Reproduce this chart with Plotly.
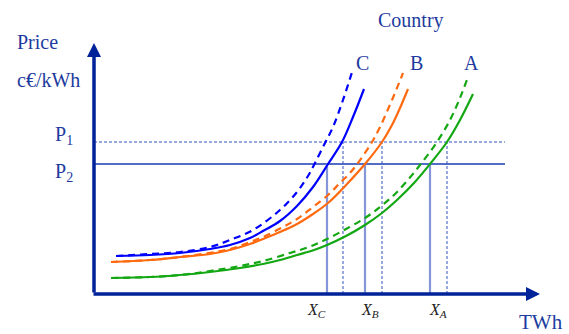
import plotly.graph_objects as go

# supply curves (x: TWh units, y: price units, origin at axes corner)
blue_solid_x = [22, 56, 86, 116, 136, 156, 169, 186, 203, 219, 234, 248, 259, 270]
blue_solid_y = [38, 39, 41, 45, 49, 56, 63, 73, 88, 107, 130, 152, 177, 205]
blue_dash_x = [22, 56, 86, 116, 136, 159, 186, 203, 214, 221, 231, 239, 249, 259]
blue_dash_y = [38, 40, 42, 47, 54, 64, 84, 102, 118, 131, 151, 167, 194, 225]

orange_solid_x = [17, 56, 86, 116, 136, 156, 169, 186, 203, 219, 234, 253, 271, 288, 298, 306, 314]
orange_solid_y = [32, 34, 37, 40, 44, 50, 55, 62, 70, 80, 91, 110, 130, 152, 169, 186, 205]
orange_dash_x = [17, 56, 86, 136, 156, 169, 189, 203, 219, 234, 246, 256, 264, 278, 286, 298, 309]
orange_dash_y = [32, 34, 37, 45, 52, 57, 67, 75, 87, 99, 111, 121, 131, 152, 167, 194, 221]

green_solid_x = [17, 56, 86, 116, 146, 169, 186, 203, 220, 233, 252, 271, 288, 303, 320, 336, 353, 366, 379]
green_solid_y = [16, 17, 19, 22, 26, 30, 34, 39, 44, 49, 58, 69, 81, 94, 111, 130, 152, 174, 200]
green_dash_x = [17, 56, 86, 116, 146, 169, 196, 215, 233, 252, 271, 286, 300, 313, 326, 343, 356, 366, 374]
green_dash_y = [16, 17, 19, 23, 28, 33, 41, 47, 55, 65, 76, 87, 99, 113, 129, 152, 174, 196, 217]

# price levels and equilibrium quantities
p1 = 152
p2 = 130
x_at_p2 = [233, 271, 336]   # X_C, X_B, X_A
x_at_p1 = [249, 288, 353]
x_labels = ["<i>X<sub>C</sub></i>", "<i>X<sub>B</sub></i>", "<i>X<sub>A</sub></i>"]
x_label_pos = [222, 276, 344]

curve_labels = ["C", "B", "A"]
label_x = [268, 322, 377]
label_y = 231

X_MAX = 450   # axis extent (1 unit = 1 px)
Y_MAX = 252
X_TIP = 446   # arrow tips
Y_TIP = 251

navy = "#00239a"
text_col = "#1d3b9e"
blue = "#0000ff"
orange = "#ff6a10"
green = "#13a813"
font = "Liberation Serif"

fig = go.Figure()

# price lines
fig.add_trace(go.Scatter(x=[0, 411], y=[p1, p1], mode="lines",
                         line=dict(color="#3355c0", width=1, dash="3px,2px"), hoverinfo="skip"))
fig.add_trace(go.Scatter(x=[0, 411], y=[p2, p2], mode="lines",
                         line=dict(color="#1a3cb4", width=1.3), hoverinfo="skip"))

# vertical drop lines
for xv in x_at_p2:
    fig.add_trace(go.Scatter(x=[xv, xv], y=[0, p2], mode="lines",
                             line=dict(color="#8496d8", width=2.2), hoverinfo="skip"))
for xv in x_at_p1:
    fig.add_trace(go.Scatter(x=[xv, xv], y=[0, p1], mode="lines",
                             line=dict(color="#3355c0", width=1, dash="3px,2px"), hoverinfo="skip"))

curves = [
    (blue_solid_x, blue_solid_y, blue, "solid"),
    (blue_dash_x, blue_dash_y, blue, "7px,5px"),
    (orange_solid_x, orange_solid_y, orange, "solid"),
    (orange_dash_x, orange_dash_y, orange, "7px,5px"),
    (green_solid_x, green_solid_y, green, "solid"),
    (green_dash_x, green_dash_y, green, "7px,5px"),
]
for cx, cy, col, dash in curves:
    fig.add_trace(go.Scatter(x=cx, y=cy, mode="lines", line_shape="spline",
                             line=dict(color=col, width=2.2, dash=dash), hoverinfo="skip"))

# axes with arrows
ann = [
    dict(x=0, y=Y_TIP, ax=0, ay=0, xref="x", yref="y", axref="x", ayref="y",
         showarrow=True, arrowhead=2, arrowsize=0.8, arrowwidth=3.5, arrowcolor=navy, text=""),
    dict(x=X_TIP, y=0, ax=-2, ay=0, xref="x", yref="y", axref="x", ayref="y",
         showarrow=True, arrowhead=2, arrowsize=0.8, arrowwidth=3.5, arrowcolor=navy, text=""),
]


def txt(t, x, y, size=20, color=text_col, xanchor="center"):
    # positions given in the same units as the data, placed via paper coords so they show outside the axes
    return dict(x=x / X_MAX, y=y / Y_MAX, xref="paper", yref="paper", text=t, showarrow=False,
                xanchor=xanchor, yanchor="middle", font=dict(family=font, size=size, color=color))


ann += [
    txt("Price", -79, 252, xanchor="left"),
    txt("c€/kWh", -79, 214, xanchor="left"),
    txt("Country", 317, 274),
    txt("TWh", 447, -28, size=21),
    txt("P<sub>1</sub>", -41, 159, xanchor="left"),
    txt("P<sub>2</sub>", -41, 121, xanchor="left"),
]
for t, x in zip(curve_labels, label_x):
    ann.append(txt(t, x, label_y))
for t, x in zip(x_labels, x_label_pos):
    ann.append(txt(t, x, -16, size=16, color="#222222"))

fig.update_layout(
    width=569, height=334,
    margin=dict(l=94, r=25, t=42, b=40),
    plot_bgcolor="white", paper_bgcolor="white",
    showlegend=False,
    xaxis=dict(range=[0, X_MAX], visible=False),
    yaxis=dict(range=[0, Y_MAX], visible=False),
    annotations=ann,
)

# drop the default page margin so the figure fills the window exactly
fig.write_html("out.html", config={"displayModeBar": False},
               post_script="document.body.style.margin='0';")
